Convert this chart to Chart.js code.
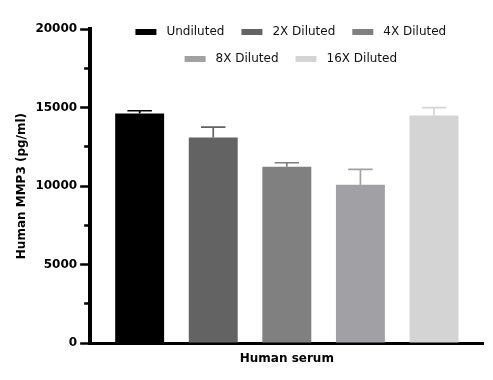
<!DOCTYPE html>
<html>
<head>
<meta charset="utf-8">
<script src="https://cdn.jsdelivr.net/npm/chart.js@4.4.1/dist/chart.umd.min.js"></script>
<style>
html,body{margin:0;padding:0;background:#ffffff;}
canvas{display:block;}
</style>
</head>
<body>
<canvas id="c" width="493" height="380"></canvas>
<script>
// ---- data ----
const categories = ['Human serum'];
const seriesNames = ['Undiluted', '2X Diluted', '4X Diluted', '8X Diluted', '16X Diluted'];
const seriesMeans = [14620, 13090, 11230, 10080, 14500];
const seriesErrors = [175, 660, 255, 980, 490];
const seriesColors = ['#000000', '#636363', '#808080', '#a1a0a5', '#d4d4d4'];
const yTickLabels = [0, 5000, 10000, 15000, 20000];
const yTitle = 'Human MMP3 (pg/ml)';

const FONT = 'DejaVu Sans';

// error bars (upper only, with cap), positioned through the chart scales
const errorBars = {
  id: 'errorBars',
  afterDatasetsDraw(chart) {
    const ctx = chart.ctx;
    const yScale = chart.scales.y;
    chart.data.datasets.forEach((ds, i) => {
      const meta = chart.getDatasetMeta(i);
      meta.data.forEach((bar, j) => {
        const top = yScale.getPixelForValue(ds.data[j] + ds.errors[j]);
        const half = bar.width / 4;
        ctx.save();
        ctx.strokeStyle = ds.backgroundColor;
        ctx.lineWidth = 1.7;
        ctx.beginPath();
        ctx.moveTo(bar.x, bar.y);
        ctx.lineTo(bar.x, top);
        ctx.moveTo(bar.x - half, top);
        ctx.lineTo(bar.x + half, top);
        ctx.stroke();
        ctx.restore();
      });
    });
  }
};

// lets the legend float over the top of the plot area instead of taking layout space
const legendOverlay = {
  id: 'legendOverlay',
  beforeLayout(chart) {
    const lg = chart.legend;
    if (lg && !lg.__patched) {
      lg.__patched = true;
      const fit = lg.fit;
      lg.fit = function () {
        fit.call(this);
        this.__h = this.height;
        this.height = 0;
      };
    }
  },
  afterLayout(chart) {
    const lg = chart.legend;
    if (!lg) return;
    lg.top = 12;
    lg.height = lg.__h || 60;
    lg.bottom = lg.top + lg.height;
    lg.left += 2;
    lg.right += 2;
  }
};

const datasets = seriesNames.map((name, i) => ({
  label: name,
  data: [seriesMeans[i]],
  errors: [seriesErrors[i]],
  backgroundColor: seriesColors[i],
  borderWidth: 0,
  categoryPercentage: 0.933,
  barPercentage: 0.665
}));

new Chart(document.getElementById('c'), {
  type: 'bar',
  data: { labels: categories, datasets: datasets },
  plugins: [errorBars, legendOverlay],
  options: {
    responsive: false,
    animation: false,
    devicePixelRatio: 1,
    layout: { padding: { left: 10, right: 9, top: 29, bottom: 4.5 } },
    plugins: {
      tooltip: { enabled: false },
      legend: {
        position: 'top',
        align: 'center',
        fullSize: false,
        labels: {
          color: '#111111',
          font: { family: FONT, size: 12 },
          boxWidth: 29,
          boxHeight: 14,
          padding: 13,
          generateLabels(chart) {
            const items = Chart.defaults.plugins.legend.labels.generateLabels(chart);
            items.forEach(it => { it.strokeStyle = '#ffffff'; it.lineWidth = 8; });
            return items;
          }
        }
      }
    },
    scales: {
      x: {
        grid: { display: true, drawOnChartArea: false, drawTicks: false, lineWidth: 0 },
        border: { display: true, color: '#000000', width: 3 },
        ticks: {
          color: '#000000',
          font: { family: FONT, size: 12, weight: 'bold' },
          padding: 9
        }
      },
      y: {
        min: yTickLabels[0],
        max: yTickLabels[yTickLabels.length - 1],
        grid: {
          display: true,
          drawOnChartArea: false,
          drawTicks: true,
          tickLength: 9.5,
          tickWidth: 2.5,
          tickColor: '#000000',
          tickBorderDash: (c) => (c.tick && yTickLabels.includes(c.tick.value)) ? [] : [0, 4, 100]
        },
        border: { display: true, color: '#000000', width: 4 },
        ticks: {
          stepSize: (yTickLabels[1] - yTickLabels[0]) / 2,
          color: '#000000',
          font: { family: FONT, size: 12, weight: 'bold' },
          padding: 3,
          autoSkip: false,
          callback: (v) => yTickLabels.includes(v) ? String(v) : ''
        },
        title: {
          display: true,
          text: yTitle,
          color: '#000000',
          font: { family: FONT, size: 12, weight: 'bold' },
          padding: { top: 5, bottom: 3 }
        }
      }
    }
  }
});
</script>
</body>
</html>
